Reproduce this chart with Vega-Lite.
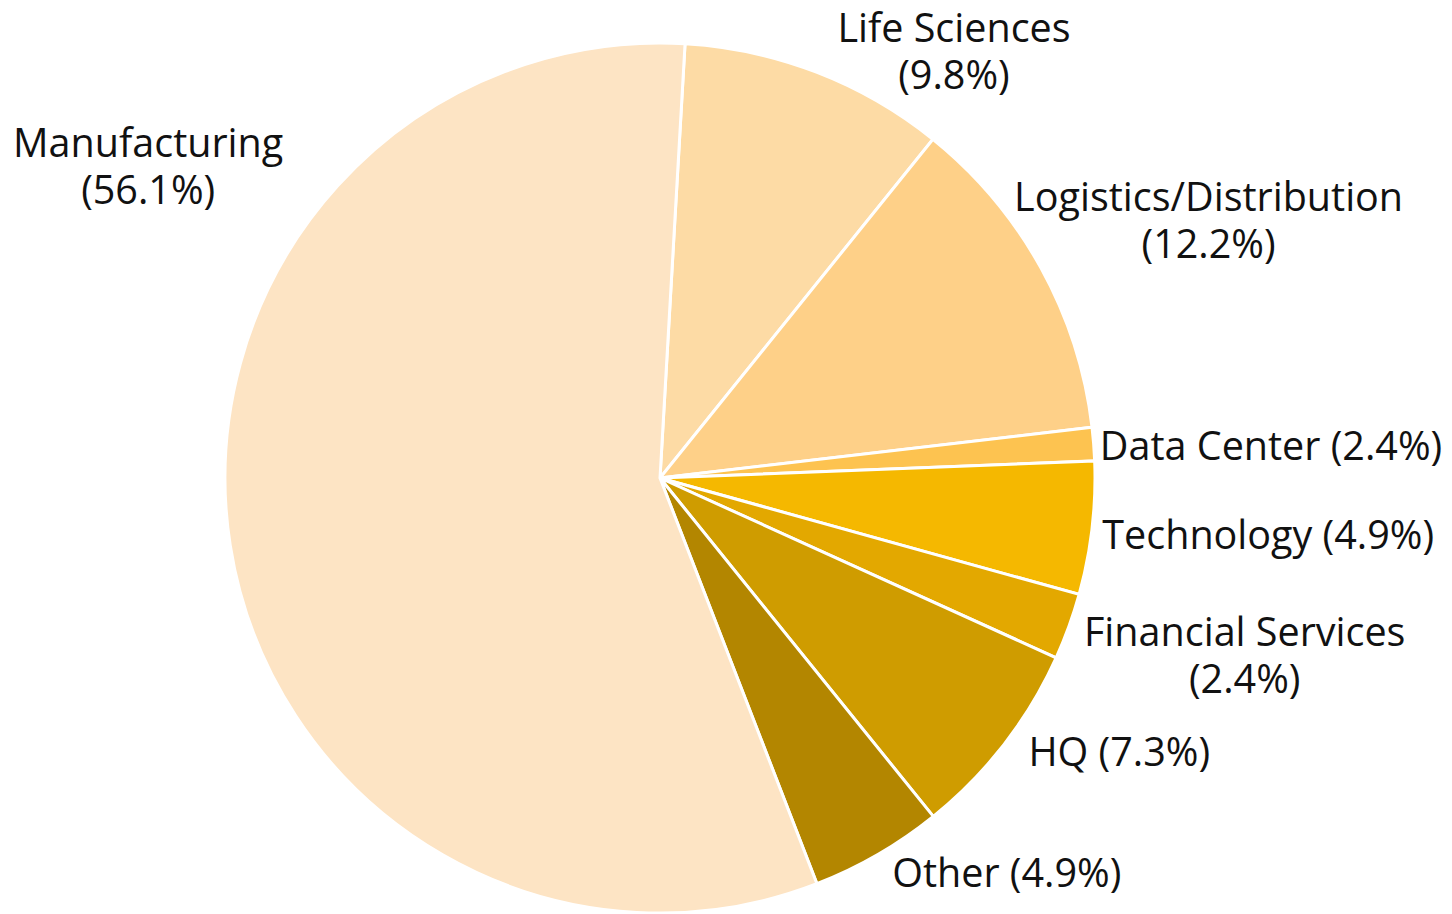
{
  "$schema": "https://vega.github.io/schema/vega-lite/v6.json",
  "width": 1320,
  "height": 956,
  "autosize": "none",
  "padding": {"left": 0, "top": 0, "right": 132, "bottom": 0},
  "background": "white",
  "config": {"view": {"stroke": null}, "text": {"font": "Open Sans", "fontSize": 39.5, "color": "#111111"}},
  "data": {"values": [
    {"sector": "Life Sciences", "value": 4, "o": 1, "label": "Life Sciences\n(9.8%)"},
    {"sector": "Logistics/Distribution", "value": 5, "o": 2, "label": "Logistics/Distribution\n(12.2%)"},
    {"sector": "Data Center", "value": 0.5, "o": 3, "label": "Data Center (2.4%)"},
    {"sector": "Technology", "value": 2, "o": 4, "label": "Technology (4.9%)"},
    {"sector": "Financial Services", "value": 1, "o": 5, "label": "Financial Services\n(2.4%)"},
    {"sector": "HQ", "value": 3, "o": 6, "label": "HQ (7.3%)"},
    {"sector": "Other", "value": 2, "o": 7, "label": "Other (4.9%)"},
    {"sector": "Manufacturing", "value": 23, "o": 8, "label": "Manufacturing\n(56.1%)"}
  ]},
  "encoding": {
    "theta": {"field": "value", "type": "quantitative", "stack": true, "scale": {"range": [0.0576, 6.3408]}},
    "order": {"field": "o", "type": "quantitative"}
  },
  "layer": [
    {
      "mark": {"type": "arc", "outerRadius": 435, "stroke": "white", "strokeWidth": 3},
      "encoding": {
        "color": {"field": "sector", "type": "nominal", "legend": null,
          "scale": {
            "domain": ["Life Sciences", "Logistics/Distribution", "Data Center", "Technology", "Financial Services", "HQ", "Other", "Manufacturing"],
            "range": ["#FDDBA5", "#FED088", "#FDC350", "#F5B800", "#E3A800", "#CF9C00", "#B38600", "#FDE4C4"]
          }}
      }
    },
    {
      "mark": {"type": "text", "radius": 441, "thetaOffset": 0.006, "dy": 2, "align": "left", "baseline": "middle"},
      "encoding": {"text": {"condition": {"test": "datum.sector == 'Data Center'", "field": "label"}, "value": ""}}
    },
    {
      "mark": {"type": "text", "radius": 446, "thetaOffset": 0.013, "dy": 2, "align": "left", "baseline": "middle"},
      "encoding": {"text": {"condition": {"test": "datum.sector == 'Technology'", "field": "label"}, "value": ""}}
    },
    {
      "mark": {"type": "text", "radius": 459, "thetaOffset": -0.02, "dy": 2, "align": "left", "baseline": "middle"},
      "encoding": {"text": {"condition": {"test": "datum.sector == 'HQ'", "field": "label"}, "value": ""}}
    },
    {
      "mark": {"type": "text", "radius": 458, "thetaOffset": -0.0075, "dy": 2, "align": "left", "baseline": "middle"},
      "encoding": {"text": {"condition": {"test": "datum.sector == 'Other'", "field": "label"}, "value": ""}}
    },
    {
      "mark": {"type": "text", "radius": 518, "thetaOffset": 0.2356, "dy": -21.5, "align": "center", "baseline": "middle", "lineBreak": "\n", "lineHeight": 47},
      "encoding": {"text": {"condition": {"test": "datum.sector == 'Life Sciences'", "field": "label"}, "value": ""}}
    },
    {
      "mark": {"type": "text", "radius": 606, "thetaOffset": 0.066, "dy": -21.5, "align": "center", "baseline": "middle", "lineBreak": "\n", "lineHeight": 47},
      "encoding": {"text": {"condition": {"test": "datum.sector == 'Logistics/Distribution'", "field": "label"}, "value": ""}}
    },
    {
      "mark": {"type": "text", "radius": 611, "thetaOffset": -0.054, "dy": -21.5, "align": "center", "baseline": "middle", "lineBreak": "\n", "lineHeight": 47},
      "encoding": {"text": {"condition": {"test": "datum.sector == 'Financial Services'", "field": "label"}, "value": ""}}
    },
    {
      "mark": {"type": "text", "radius": 599, "thetaOffset": 0.702, "dy": -21.5, "align": "center", "baseline": "middle", "lineBreak": "\n", "lineHeight": 47},
      "encoding": {"text": {"condition": {"test": "datum.sector == 'Manufacturing'", "field": "label"}, "value": ""}}
    }
  ]
}
